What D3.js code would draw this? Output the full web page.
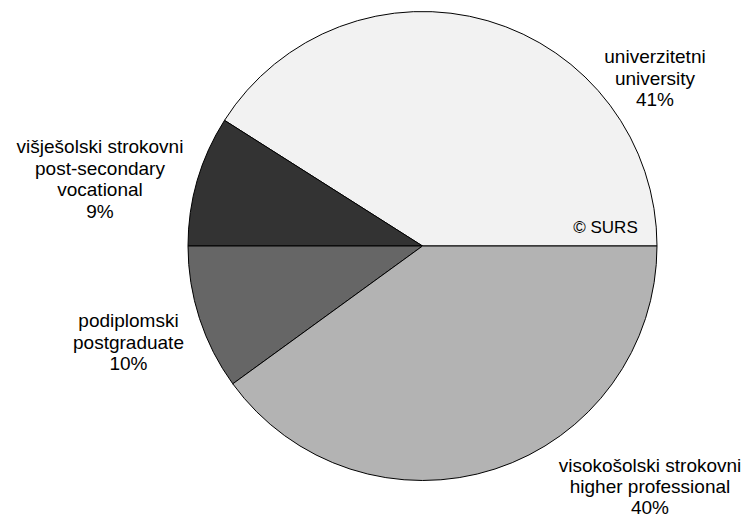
<!DOCTYPE html>
<html><head><meta charset="utf-8">
<script src="https://cdn.jsdelivr.net/npm/d3@7"></script>
<style>body{margin:0;background:#fff}svg{display:block}</style>
</head><body>
<svg id="c" width="749" height="518"></svg>
<script>
const categories = ["univerzitetni", "višješolski strokovni", "podiplomski", "visokošolski strokovni"];
const categoriesEn = ["university", "post-secondary vocational", "postgraduate", "higher professional"];
const values = [41, 9, 10, 40];
const colors = ["#f2f2f2", "#333333", "#666666", "#b3b3b3"];
const labelLines = [
  ["univerzitetni", "university", "41%"],
  ["višješolski strokovni", "post-secondary", "vocational", "9%"],
  ["podiplomski", "postgraduate", "10%"],
  ["visokošolski strokovni", "higher professional", "40%"]
];
const labelPos = [[655, 63], [100, 153], [128.5, 327], [650, 472]];
const lineGap = [21.7, 21.7, 21.7, 20.8];

const svg = d3.select("#c");
const cx = 422.5, cy = 246, r = 234.5;
const data = values.map((v, i) => ({cat: categories[i], v, i}));
const pie = d3.pie().value(d => d.v).sort(null).startAngle(Math.PI / 2).endAngle(Math.PI / 2 - 2 * Math.PI);
const arc = d3.arc().innerRadius(0).outerRadius(r);
const g = svg.append("g").attr("transform", `translate(${cx},${cy})`);
g.selectAll("path").data(pie(data)).enter().append("path")
  .attr("d", arc).attr("fill", d => colors[d.data.i])
  .attr("stroke", "#000").attr("stroke-width", 1);

const font = "'Liberation Sans', Arial, sans-serif";
labelLines.forEach((lines, i) => {
  const t = svg.append("text").attr("x", labelPos[i][0]).attr("y", labelPos[i][1])
    .attr("text-anchor", "middle").attr("font-family", font).attr("font-size", 19).attr("fill", "#000");
  lines.forEach((l, j) => t.append("tspan").attr("x", labelPos[i][0]).attr("dy", j === 0 ? 0 : lineGap[i]).text(l));
});
svg.append("text").attr("x", 605.5).attr("y", 233).attr("text-anchor", "middle")
  .attr("font-family", font).attr("font-size", 17).text("© SURS");
</script>
</body></html>
